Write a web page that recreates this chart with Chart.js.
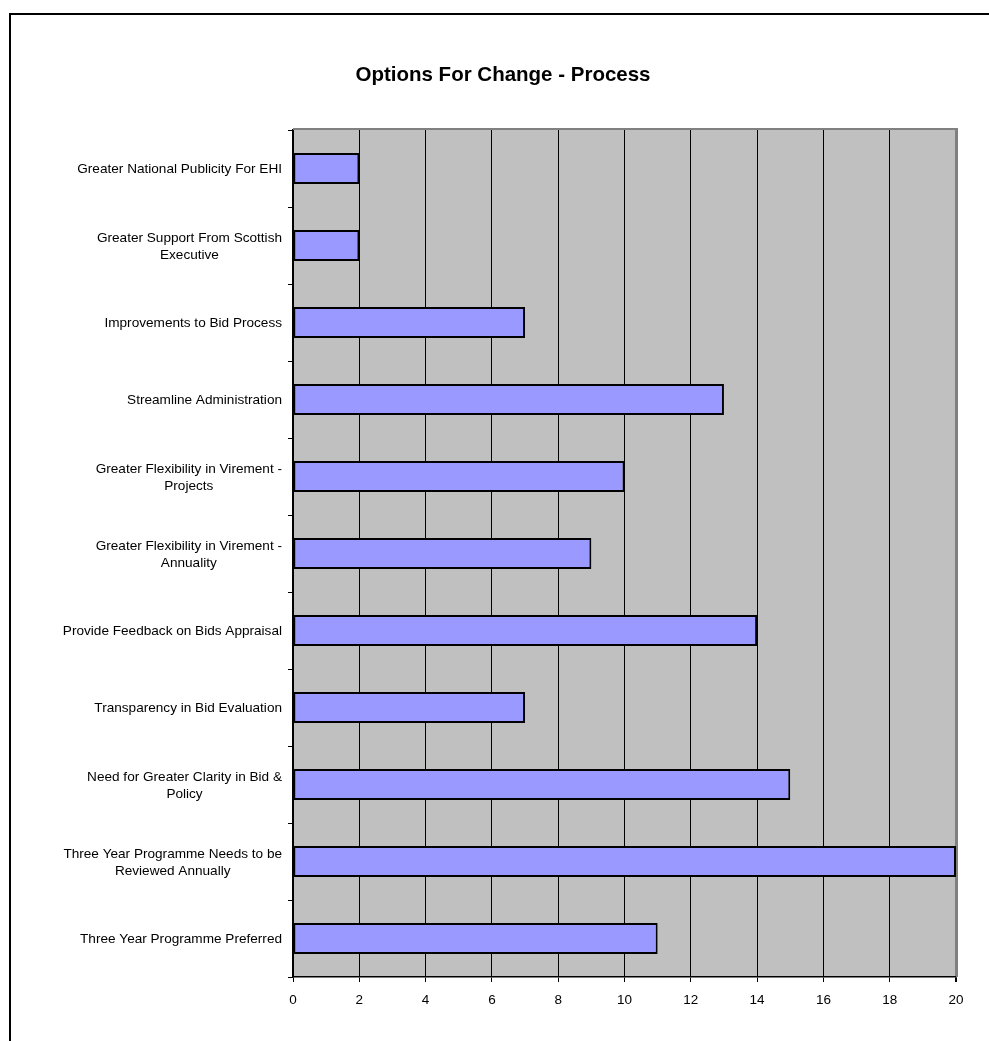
<!DOCTYPE html>
<html>
<head>
<meta charset="utf-8">
<script src="https://cdn.jsdelivr.net/npm/chart.js@4/dist/chart.umd.min.js"></script>
<style>
    html, body { margin: 0; padding: 0; background: #fff; overflow: hidden; }
    #frame {
        position: absolute; left: 9px; top: 13px;
        width: 1100px; height: 1200px;
        border-left: 2px solid #000; border-top: 2px solid #000;
    }
    #chartCanvas { position: absolute; left: 0; top: 0; }
</style>
</head>
<body>
<div id="frame"></div>
<canvas id="chartCanvas" width="989" height="1041"></canvas>
<script>
"use strict";

const chartTitle = 'Options For Change - Process';

const categories = [
    'Greater National Publicity For EHI',
    ['Greater Support From Scottish', 'Executive'],
    'Improvements to Bid Process',
    'Streamline Administration',
    ['Greater Flexibility in Virement -', 'Projects'],
    ['Greater Flexibility in Virement -', 'Annuality'],
    'Provide Feedback on Bids Appraisal',
    'Transparency in Bid Evaluation',
    ['Need for Greater Clarity in Bid &', 'Policy'],
    ['Three Year Programme Needs to be', 'Reviewed Annually'],
    'Three Year Programme Preferred'
];

const responses = [2, 2, 7, 13, 10, 9, 14, 7, 15, 20, 11];

const xTickMin = 0;
const xTickMax = 20;
const xTickStep = 2;

const FONT = '"Liberation Sans", Arial, sans-serif';

// gray plot background + gray top border, like the old Excel chart
const plotAreaPlugin = {
    id: 'plotArea',
    beforeDraw(chart) {
        const { ctx, chartArea: a } = chart;
        ctx.save();
        ctx.fillStyle = '#C0C0C0';
        ctx.fillRect(a.left, a.top, a.right - a.left, a.bottom - a.top);
        ctx.restore();
    },
    beforeDatasetsDraw(chart) {
        const { ctx, chartArea: a } = chart;
        ctx.save();
        ctx.strokeStyle = '#808080';
        ctx.lineWidth = 2;
        ctx.beginPath();
        ctx.moveTo(a.left, a.top - 1);
        ctx.lineTo(a.right + 1, a.top - 1);
        ctx.lineTo(a.right + 1, a.bottom);
        ctx.stroke();
        ctx.restore();
    }
};

// title + category labels (multi-line ones centred on each other, block right-aligned)
const labelPlugin = {
    id: 'labels',
    afterDraw(chart) {
        const { ctx } = chart;
        const yScale = chart.scales.y;
        ctx.save();
        ctx.fillStyle = '#000';

        ctx.font = 'bold 20.5px ' + FONT;
        ctx.textAlign = 'center';
        ctx.textBaseline = 'middle';
        ctx.fillText(chartTitle, 503, 75);

        ctx.font = '13.6px ' + FONT;
        const rightEdge = chart.chartArea.left - 11;
        const lineHeight = 17;
        categories.forEach((label, i) => {
            const lines = Array.isArray(label) ? label : [label];
            const maxW = Math.max(...lines.map(l => ctx.measureText(l).width));
            const cx = rightEdge - maxW / 2;
            const cy = yScale.getPixelForTick(i) + 1;
            lines.forEach((line, j) => {
                ctx.fillText(line, cx, cy + (j - (lines.length - 1) / 2) * lineHeight);
            });
        });
        ctx.restore();
    }
};

const ctx = document.getElementById('chartCanvas').getContext('2d');

new Chart(ctx, {
    type: 'bar',
    data: {
        labels: categories,
        datasets: [{
            data: responses,
            backgroundColor: '#9999FF',
            borderColor: '#000000',
            borderWidth: 2,
            borderSkipped: false,
            barPercentage: 0.4,
            categoryPercentage: 1.0
        }]
    },
    options: {
        indexAxis: 'y',
        responsive: false,
        animation: false,
        devicePixelRatio: 1,
        layout: { padding: { top: 130, right: 33, left: 0, bottom: 0 } },
        plugins: {
            legend: { display: false },
            title: { display: false },
            tooltip: { enabled: false }
        },
        scales: {
            x: {
                min: xTickMin,
                max: xTickMax,
                ticks: {
                    stepSize: xTickStep,
                    color: '#000',
                    padding: 10,
                    font: { family: FONT, size: 13.5 }
                },
                grid: {
                    color: (c) => (c.tick && c.tick.value === xTickMax) ? '#808080' : '#000',
                    lineWidth: (c) => (c.tick && c.tick.value === xTickMax) ? 2 : 1,
                    tickColor: '#000',
                    tickLength: 5
                },
                border: { color: '#000', width: 1.5 },
                afterFit(scale) { scale.height = 64; }
            },
            y: {
                ticks: { display: false },
                grid: {
                    drawOnChartArea: false,
                    color: '#000',
                    tickColor: '#000',
                    tickLength: 5,
                    offset: true
                },
                border: { color: '#000', width: 1.5 },
                afterFit(scale) { scale.width = 293; }
            }
        }
    },
    plugins: [plotAreaPlugin, labelPlugin]
});
</script>
</body>
</html>
